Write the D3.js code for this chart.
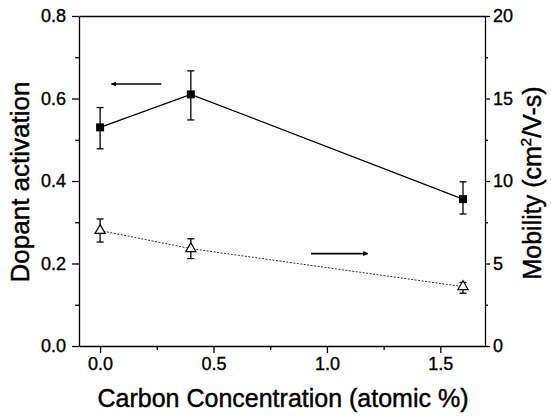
<!DOCTYPE html>
<head>
  <meta charset="utf-8">
  <script src="https://d3js.org/d3.v7.min.js"></script>
  <style>
body { margin: 0; background: #fff; }
svg { font-family: "Liberation Sans", Arial, sans-serif; }
.axis path, .axis line { stroke: #000; stroke-width: 1.3px; }
.axis text { font-size: 18px; fill: #000; stroke: #000; stroke-width: 0.35px; }
.title { font-size: 25px; fill: #000; stroke: #000; stroke-width: 0.45px; }
  </style>
</head>
<body>
  <script>
    // carbon concentration (atomic %)
    var carbon = [0, 0.4, 1.6];
    // dopant activation, left axis
    var activation = [0.53, 0.61, 0.356];
    var activationLo = [0.478, 0.548, 0.32];
    var activationHi = [0.578, 0.667, 0.398];
    // mobility (cm2/V-s), right axis
    var mobility = [7.0, 5.9, 3.6];
    var mobilityLo = [6.3, 5.3, 3.2];
    var mobilityHi = [7.7, 6.5, 3.85];
    // tick labels
    var xTicks = [0, 0.5, 1.0, 1.5];
    var leftTicks = [0, 0.2, 0.4, 0.6, 0.8];
    var rightTicks = [0, 5, 10, 15, 20];
    // annotation arrows [x0, x1, y] in data units
    var arrowLeft = [0.27, 0.05, 0.635];
    var arrowRight = [0.93, 1.18, 5.6];

    var width = 551, height = 420;
    var margin = {left: 79, right: 66, top: 16, bottom: 74};

    var svg = d3.select("body").append("svg")
      .attr("width", width)
      .attr("height", height);

    var x = d3.scaleLinear().domain([-0.093, 1.697]).range([margin.left, width - margin.right]);
    var yL = d3.scaleLinear().domain([0, 0.8]).range([height - margin.bottom, margin.top]);
    var yR = d3.scaleLinear().domain([0, 20]).range([height - margin.bottom, margin.top]);

    var fmt1 = d3.format(".1f");

    // minor ticks first
    svg.append("g").attr("class", "axis")
      .attr("transform", "translate(0," + (height - margin.bottom) + ")")
      .call(d3.axisBottom(x).tickValues([0.25, 0.75, 1.25]).tickSize(4).tickFormat(""))
      .select(".domain").remove();
    svg.append("g").attr("class", "axis")
      .attr("transform", "translate(" + margin.left + ",0)")
      .call(d3.axisLeft(yL).tickValues([0.1, 0.3, 0.5, 0.7]).tickSize(4).tickFormat(""))
      .select(".domain").remove();
    svg.append("g").attr("class", "axis")
      .attr("transform", "translate(" + (width - margin.right) + ",0)")
      .call(d3.axisRight(yR).tickValues([2.5, 7.5, 12.5, 17.5]).tickSize(3).tickFormat(""))
      .select(".domain").remove();

    svg.append("g").attr("class", "axis")
      .attr("transform", "translate(0," + (height - margin.bottom) + ")")
      .call(d3.axisBottom(x).tickValues(xTicks).tickSize(7).tickSizeOuter(0).tickPadding(4).tickFormat(fmt1));
    svg.append("g").attr("class", "axis")
      .attr("transform", "translate(0," + margin.top + ")")
      .call(d3.axisTop(x).tickValues([]).tickSizeOuter(0));
    svg.append("g").attr("class", "axis")
      .attr("transform", "translate(" + margin.left + ",0)")
      .call(d3.axisLeft(yL).tickValues(leftTicks).tickSize(7).tickSizeOuter(0).tickPadding(6).tickFormat(fmt1));
    svg.append("g").attr("class", "axis")
      .attr("transform", "translate(" + (width - margin.right) + ",0)")
      .call(d3.axisRight(yR).tickValues(rightTicks).tickSize(5).tickSizeOuter(0).tickPadding(3).tickFormat(d3.format("d")));

    // connecting lines
    var actPts = carbon.map(function(c, i) { return [x(c), yL(activation[i])]; });
    var mobPts = carbon.map(function(c, i) { return [x(c), yR(mobility[i])]; });
    svg.append("path").attr("d", d3.line()(actPts))
      .attr("fill", "none").attr("stroke", "#000").attr("stroke-width", 1.2);
    svg.append("path").attr("d", d3.line()(mobPts))
      .attr("fill", "none").attr("stroke", "#333").attr("stroke-width", 1)
      .attr("stroke-dasharray", "2,1.5");

    // error bars
    function errBars(lo, hi, y) {
      var g = svg.append("g").attr("stroke", "#000").attr("stroke-width", 1.3);
      carbon.forEach(function(c, i) {
        var cx = x(c);
        g.append("line").attr("x1", cx).attr("x2", cx).attr("y1", y(lo[i])).attr("y2", y(hi[i]));
        g.append("line").attr("x1", cx - 3.5).attr("x2", cx + 3.5).attr("y1", y(lo[i])).attr("y2", y(lo[i]));
        g.append("line").attr("x1", cx - 3.5).attr("x2", cx + 3.5).attr("y1", y(hi[i])).attr("y2", y(hi[i]));
      });
    }
    errBars(activationLo, activationHi, yL);
    errBars(mobilityLo, mobilityHi, yR);

    // markers
    svg.selectAll(".sq").data(actPts).enter().append("rect")
      .attr("x", function(d) { return d[0] - 4; })
      .attr("y", function(d) { return d[1] - 4; })
      .attr("width", 8).attr("height", 8).attr("fill", "#000");
    var tri = d3.symbol().type(d3.symbolTriangle).size(45);
    svg.selectAll(".tri").data(mobPts).enter().append("path")
      .attr("d", tri)
      .attr("transform", function(d) { return "translate(" + d[0] + "," + d[1] + ")"; })
      .attr("fill", "#fff").attr("stroke", "#000").attr("stroke-width", 1.2);

    // arrows
    svg.append("defs").append("marker")
      .attr("id", "head").attr("viewBox", "0 0 10 10")
      .attr("refX", 9).attr("refY", 5)
      .attr("markerWidth", 7).attr("markerHeight", 5)
      .attr("markerUnits", "userSpaceOnUse")
      .attr("orient", "auto")
      .append("path").attr("d", "M0,0L10,5L0,10z").attr("fill", "#000");
    svg.append("line")
      .attr("x1", x(arrowLeft[0])).attr("x2", x(arrowLeft[1]))
      .attr("y1", yL(arrowLeft[2])).attr("y2", yL(arrowLeft[2]))
      .attr("stroke", "#000").attr("stroke-width", 1.6).attr("marker-end", "url(#head)");
    svg.append("line")
      .attr("x1", x(arrowRight[0])).attr("x2", x(arrowRight[1]))
      .attr("y1", yR(arrowRight[2])).attr("y2", yR(arrowRight[2]))
      .attr("stroke", "#000").attr("stroke-width", 1.6).attr("marker-end", "url(#head)");

    // axis titles
    svg.append("text").attr("class", "title")
      .attr("x", 283).attr("y", 407)
      .attr("text-anchor", "middle")
      .text("Carbon Concentration (atomic %)");
    svg.append("text").attr("class", "title")
      .style("font-size", "26px")
      .attr("transform", "translate(29,182) rotate(-90)")
      .attr("text-anchor", "middle")
      .text("Dopant activation");
    var rt = svg.append("text").attr("class", "title")
      .style("font-size", "25px")
      .attr("transform", "translate(541,183) rotate(-90)")
      .attr("text-anchor", "middle");
    rt.append("tspan").text("Mobility (cm");
    rt.append("tspan").attr("dy", -10).attr("font-size", "15px").text("2");
    rt.append("tspan").attr("dy", 10).text("/V-s)");
  </script>
</body>
